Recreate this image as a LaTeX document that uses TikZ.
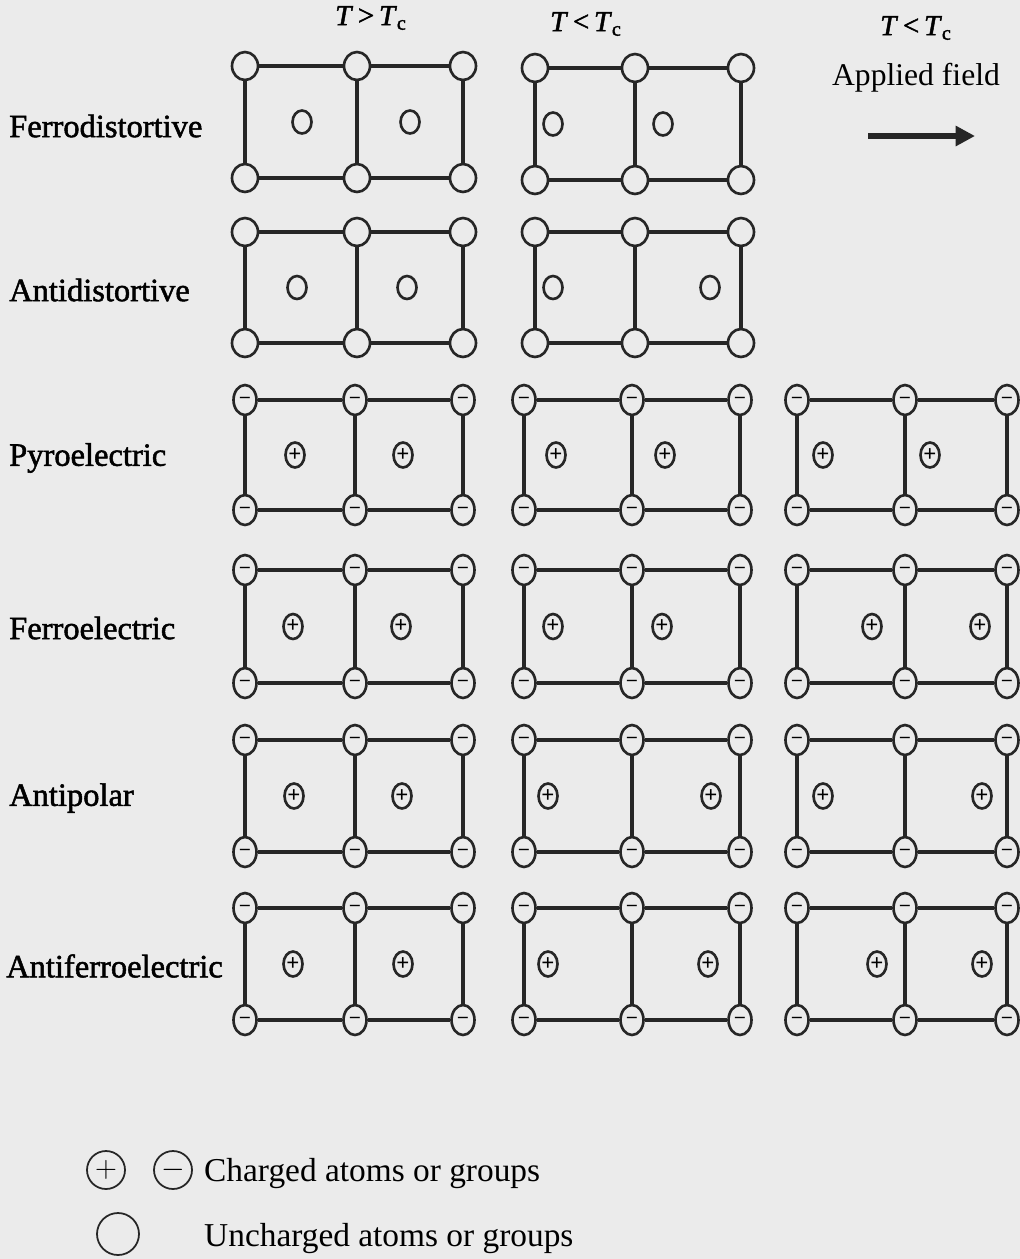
\documentclass[tikz,border=0pt]{standalone}
\usepackage{fontspec}
\setmainfont{Liberation Serif}
\newfontfamily\heavyfont{Liberation Serif}[FakeBold=1.6]
\usetikzlibrary{shapes.geometric, arrows.meta}

% two square cells: corners xl/xm/xr at yt/yb, centre atoms at xa/xb
\newcommand{\cellpair}[9]{%
  \node (#1tl) at (#2,#5) [#9 corner];
  \node (#1tm) at (#3,#5) [#9 corner];
  \node (#1tr) at (#4,#5) [#9 corner];
  \node (#1bl) at (#2,#6) [#9 corner];
  \node (#1bm) at (#3,#6) [#9 corner];
  \node (#1br) at (#4,#6) [#9 corner];
  \node (#1ca) at (#7,{(#5+#6)/2}) [#9 centre];
  \node (#1cb) at (#8,{(#5+#6)/2}) [#9 centre];
  \draw[bond] (#1tl) -- (#1tm) -- (#1tr) -- (#1br) -- (#1bm) -- (#1bl) -- (#1tl);
  \draw[bond] (#1tm) -- (#1bm);
}

\begin{document}
\begin{tikzpicture}[
  x=0.02cm, y=-0.02cm,
  every node/.style={font=\fontsize{19}{22}\selectfont},
  bond/.style={line width=2.1pt, black!85},
  atom/.style={ellipse, draw=black!85, line width=1.5pt, inner sep=0pt},
  ion corner/.style={atom, minimum width=0.46cm, minimum height=0.6cm,
    font=\fontsize{11}{11}\selectfont\bfseries, node contents={–}},
  ion centre/.style={atom, minimum width=0.38cm, minimum height=0.5cm,
    font=\fontsize{13}{13}\selectfont\bfseries, node contents={+}},
  neu corner/.style={atom, minimum width=0.52cm, minimum height=0.56cm, node contents={}},
  neu centre/.style={atom, minimum width=0.38cm, minimum height=0.46cm, node contents={}},
  rowlabel/.style={anchor=west, font=\fontsize{18.5}{22}\selectfont\heavyfont},
  head/.style={anchor=center, font=\fontsize{16.5}{20}\selectfont\heavyfont},
  keyatom/.style={circle, draw=black!85, line width=1pt, inner sep=0pt,
    font=\fontsize{16}{16}\selectfont},
  keytext/.style={anchor=west},
  field/.style={line width=3.4pt, black!85, -{Triangle[length=11pt, width=11pt]}}
]
\useasboundingbox (0,0) rectangle (1020,1259);
\fill[black!8] (0,0) rectangle (1020,1259);

% ===== COLUMN HEADS =====
\node[head] (h1) at (371,18) {\textit{T}\,>\,\textit{T}\textsubscript{c}};
\node[head] (h2) at (586,24) {\textit{T}\,<\,\textit{T}\textsubscript{c}};
\node[head] (h3) at (916,28) {\textit{T}\,<\,\textit{T}\textsubscript{c}};
\node[head, font=\fontsize{18}{20}\selectfont] (h4) at (916,78) {Applied field};
\coordinate (fa) at (868,136);
\coordinate (fb) at (975,136);
\draw[field] (fa) -- (fb);

% ===== ROW LABELS =====
\node[rowlabel] (l1) at (3,126) {Ferrodistortive};
\node[rowlabel] (l2) at (3,290) {Antidistortive};
\node[rowlabel] (l3) at (3,458) {Pyroelectric};
\node[rowlabel] (l4) at (3,628) {Ferroelectric};
\node[rowlabel] (l5) at (3,798) {Antipolar};
\node[rowlabel] (l6) at (0,966) {Antiferroelectric};

% ===== LATTICES =====
\cellpair{fda}{245}{357}{463}{66}{178}{302}{410}{neu}
\cellpair{fdb}{535}{635}{741}{68}{180}{553}{663}{neu}

\cellpair{ada}{245}{357}{463}{232}{343}{297}{407}{neu}
\cellpair{adb}{535}{635}{741}{232}{343}{553}{710}{neu}

\cellpair{pya}{245}{355}{463}{400}{510}{295}{403}{ion}
\cellpair{pyb}{524}{632}{740}{400}{510}{556}{665}{ion}
\cellpair{pyc}{797}{905}{1007}{400}{510}{823}{930}{ion}

\cellpair{fea}{245}{355}{463}{570}{683}{293}{401}{ion}
\cellpair{feb}{524}{632}{740}{570}{683}{553}{662}{ion}
\cellpair{fec}{797}{905}{1007}{570}{683}{872}{980}{ion}

\cellpair{apa}{245}{355}{463}{740}{852}{294}{402}{ion}
\cellpair{apb}{524}{632}{740}{740}{852}{548}{711}{ion}
\cellpair{apc}{797}{905}{1007}{740}{852}{823}{982}{ion}

\cellpair{afa}{245}{355}{463}{908}{1020}{293}{403}{ion}
\cellpair{afb}{524}{632}{740}{908}{1020}{548}{708}{ion}
\cellpair{afc}{797}{905}{1007}{908}{1020}{877}{982}{ion}

% ===== KEY =====
\node[keyatom, minimum size=0.76cm] (kp) at (106,1170) {$+$};
\node[keyatom, minimum size=0.76cm] (km) at (173,1170) {$-$};
\node[keyatom, minimum size=0.84cm] (kn) at (118,1234) {};
\node[keytext] (kt1) at (198,1174) {Charged atoms or groups};
\node[keytext] (kt2) at (198,1239) {Uncharged atoms or groups};
\end{tikzpicture}
\end{document}
